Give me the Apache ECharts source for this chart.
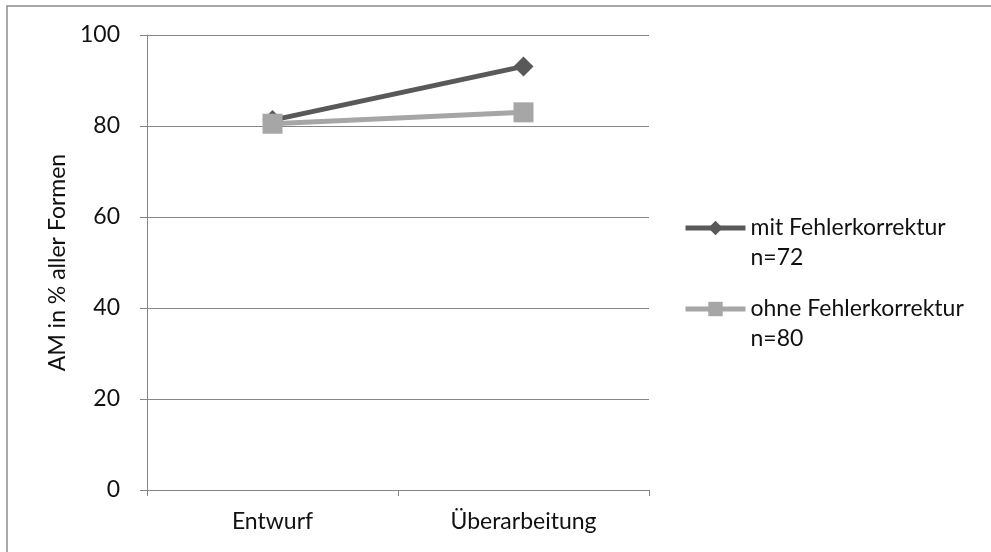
<!DOCTYPE html>
<html>
<head>
<meta charset="utf-8">
<script src="https://cdn.jsdelivr.net/npm/echarts@6/dist/echarts.min.js"></script>
<style>
html,body{margin:0;padding:0;background:#fff;}
#chart{width:991px;height:552px;}
</style>
</head>
<body>
<div id="chart"></div>
<script>
// Stages of the text
const categories = ['Entwurf', 'Überarbeitung'];
// Mean share (%) per group
const seriesNames = ['mit Fehlerkorrektur', 'ohne Fehlerkorrektur'];
const groupSizes = ['n=72', 'n=80'];
const withCorrection = [81.3, 93.1];
const withoutCorrection = [80.5, 83.0];
const yTicks = [0, 20, 40, 60, 80, 100];

const font = 'Lato, "Open Sans", sans-serif';
const chart = echarts.init(document.getElementById('chart'));

const sizeByName = {};
seriesNames.forEach((n, i) => { sizeByName[n] = groupSizes[i]; });

chart.setOption({
  animation: false,
  backgroundColor: '#fff',
  textStyle: { fontFamily: font },
  graphic: [{
    type: 'rect',
    shape: { x: 7, y: 6, width: 1000, height: 600 },
    style: { fill: 'none', stroke: '#8c8c8c', lineWidth: 1.5 },
    silent: true
  }],
  grid: { left: 147, right: 342, top: 35, bottom: 62 },
  legend: {
    orient: 'vertical',
    left: 678,
    top: 178,
    itemWidth: 60,
    itemHeight: 18,
    itemGap: -9,
    data: seriesNames,
    lineStyle: { width: 5 },
    // leading blank line keeps the symbol level with the series name
    formatter: name => '\n' + name + '\n' + sizeByName[name],
    textStyle: {
      fontFamily: font,
      fontSize: 23,
      color: '#111',
      lineHeight: 30
    }
  },
  xAxis: {
    type: 'category',
    data: categories,
    boundaryGap: true,
    axisLine: { lineStyle: { color: '#868686', width: 1 } },
    axisTick: { show: true, length: 6, alignWithLabel: false, lineStyle: { color: '#868686' } },
    axisLabel: { fontSize: 23, color: '#111', margin: 20, fontFamily: font }
  },
  yAxis: {
    type: 'value',
    min: yTicks[0],
    max: yTicks[yTicks.length - 1],
    interval: 20,
    name: 'AM in % aller Formen',
    nameLocation: 'middle',
    nameGap: 75,
    nameRotate: 90,
    nameTextStyle: { fontSize: 23, color: '#111', fontFamily: font },
    axisLine: { show: true, lineStyle: { color: '#868686', width: 1 } },
    axisTick: { show: true, length: 7, lineStyle: { color: '#868686' } },
    axisLabel: { fontSize: 23, color: '#111', margin: 27, fontFamily: font },
    splitLine: { show: true, lineStyle: { color: '#868686', width: 1 } }
  },
  series: [
    {
      name: seriesNames[0],
      type: 'line',
      data: withCorrection,
      symbol: 'diamond',
      symbolSize: 20,
      lineStyle: { color: '#595959', width: 5 },
      itemStyle: { color: '#595959' },
      z: 2
    },
    {
      name: seriesNames[1],
      type: 'line',
      data: withoutCorrection,
      symbol: 'rect',
      symbolSize: 20,
      lineStyle: { color: '#a6a6a6', width: 5 },
      itemStyle: { color: '#a6a6a6' },
      z: 3
    }
  ]
});
</script>
</body>
</html>
